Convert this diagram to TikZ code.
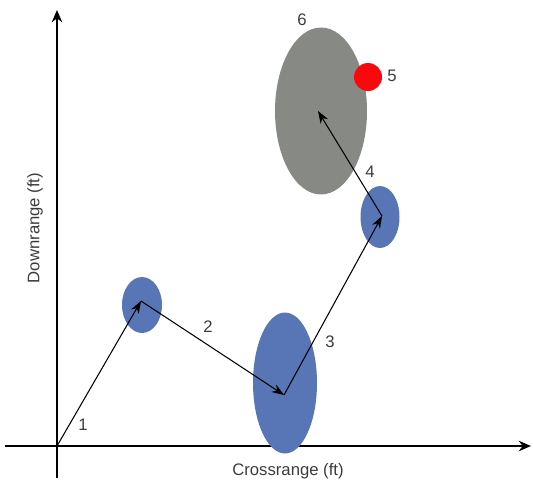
\documentclass[tikz,border=0pt]{standalone}
\usepackage{fontspec}
\setmainfont{Liberation Sans}
\usetikzlibrary{arrows.meta, shapes.geometric}
\definecolor{errblue}{RGB}{88,118,182}
\definecolor{errgray}{RGB}{134,137,132}
\definecolor{hitred}{RGB}{250,8,12}
\definecolor{labelgray}{RGB}{60,60,60}
\tikzset{
  >=Stealth,
  axis/.style={->, line width=0.9pt, black, >={Stealth[length=7pt, width=6pt]}},
  leg/.style={->, line width=0.6pt, black, >={Stealth[length=7pt, width=5pt]}},
  errell/.style={ellipse, fill=errblue, draw=none, inner sep=0pt},
  numlbl/.style={text=labelgray, font=\fontsize{9.5}{11}\selectfont},
}
\begin{document}
\begin{tikzpicture}[x=0.02cm, y=-0.02cm]
  \useasboundingbox (0,0) rectangle (533,484);

  % ---- axes ----
  \coordinate (o) at (57,446);
  \coordinate (ybot) at (57,478);
  \coordinate (ytop) at (57,10);
  \coordinate (xlft) at (5,446);
  \coordinate (xrgt) at (531,446);
  \draw[axis] (ybot) -- (ytop);
  \draw[axis] (xlft) -- (xrgt);
  \node[numlbl] (xlab) at (288,471) {Crossrange (ft)};
  \node[numlbl, rotate=90] (ylab) at (35,228) {Downrange (ft)};

  % ---- uncertainty regions ----
  \node[errell, minimum width=0.80cm, minimum height=1.12cm] (e1) at (142,305) {};
  \node[errell, minimum width=1.28cm, minimum height=2.82cm] (e2) at (285,383) {};
  \node[errell, minimum width=0.78cm, minimum height=1.24cm] (e3) at (380,217) {};
  \node[ellipse, fill=errgray, inner sep=0pt,
        minimum width=1.84cm, minimum height=3.34cm] (e4) at (321,111) {};
  \node[circle, fill=hitred, inner sep=0pt, minimum size=0.56cm] (tgt) at (368,77) {};

  % ---- legs ----
  \coordinate (p1) at (141,301);
  \coordinate (p2) at (284,395);
  \coordinate (p3) at (382,216);
  \coordinate (p4) at (318,111);
  \draw[leg] (o) -- (p1);
  \draw[leg] (p1) -- (p2);
  \draw[leg] (p2) -- (p3);
  \draw[leg] (p3) -- (p4);

  % ---- labels ----
  \node[numlbl] (n1) at (83,425) {1};
  \node[numlbl] (n2) at (208,327) {2};
  \node[numlbl] (n3) at (330,342) {3};
  \node[numlbl] (n4) at (370,172) {4};
  \node[numlbl] (n5) at (392,76) {5};
  \node[numlbl] (n6) at (302,20) {6};
\end{tikzpicture}
\end{document}
